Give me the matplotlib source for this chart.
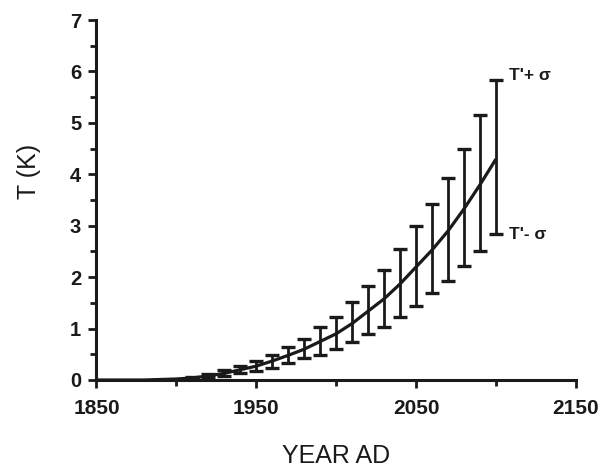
import numpy as np
import matplotlib
matplotlib.use("Agg")
import matplotlib.pyplot as plt
from matplotlib.ticker import MultipleLocator

# mean warming curve (K) by year
anos_curva = [1850, 1860, 1870, 1880, 1890, 1900, 1910, 1920, 1930, 1940, 1950,
              1960, 1970, 1980, 1990, 2000, 2010, 2020, 2030, 2040, 2050,
              2060, 2070, 2080, 2090, 2100]
t_curva = [0.0, 0.0, 0.0, 0.0, 0.01, 0.02, 0.04, 0.08, 0.13, 0.2, 0.27,
           0.37, 0.48, 0.6, 0.75, 0.9, 1.1, 1.34, 1.58, 1.87, 2.2,
           2.53, 2.9, 3.33, 3.8, 4.3]

# T' + sigma / T' - sigma every ten years
anos_barra = [1910, 1920, 1930, 1940, 1950, 1960, 1970, 1980, 1990, 2000,
              2010, 2020, 2030, 2040, 2050, 2060, 2070, 2080, 2090, 2100]
t_sup = [0.06, 0.11, 0.19, 0.27, 0.36, 0.49, 0.64, 0.79, 1.03, 1.22,
         1.51, 1.83, 2.14, 2.55, 2.99, 3.43, 3.93, 4.49, 5.15, 5.83]
t_inf = [0.02, 0.05, 0.08, 0.14, 0.17, 0.24, 0.33, 0.42, 0.49, 0.60,
         0.73, 0.89, 1.04, 1.23, 1.43, 1.69, 1.93, 2.21, 2.50, 2.83]

# eixos
xticks_maior = [1850, 1950, 2050, 2150]
xticks_menor = [1900, 2000, 2100]

plt.rcParams["font.family"] = ["Liberation Sans", "DejaVu Sans"]

fig = plt.figure(figsize=(6.05, 4.67), dpi=100)
ax = fig.add_axes([0.1595, 0.1863, 0.7925, 0.7707])

cor = "#1a1a1a"
ax.plot(anos_curva, t_curva, color=cor, lw=2.3, solid_capstyle="butt", zorder=3)

centro = (np.array(t_sup) + np.array(t_inf)) / 2
ax.errorbar(anos_barra, centro,
            yerr=[centro - np.array(t_inf), np.array(t_sup) - centro],
            fmt="none", ecolor=cor, elinewidth=2.0, capsize=5, capthick=2.4,
            zorder=2)

ax.text(2108, t_sup[-1] + 0.1, "T'+ σ", fontsize=12.5, fontweight="bold",
        va="center", ha="left", color=cor)
ax.text(2108, t_inf[-1], "T'- σ", fontsize=12.5, fontweight="bold",
        va="center", ha="left", color=cor)

ax.set_xlim(1850, 2150)
ax.set_ylim(0, 7)
ax.set_xticks(xticks_maior)
ax.set_xticks(xticks_menor, minor=True)
ax.yaxis.set_major_locator(MultipleLocator(1))
ax.yaxis.set_minor_locator(MultipleLocator(0.5))

for lado in ["top", "right"]:
    ax.spines[lado].set_visible(False)
for lado in ["left", "bottom"]:
    ax.spines[lado].set_linewidth(2.2)
    ax.spines[lado].set_color(cor)

ax.tick_params(which="major", length=6, width=2, color=cor, direction="out")
ax.tick_params(which="minor", length=4, width=2, color=cor, direction="out")
ax.tick_params(axis="x", which="major", pad=8)
ax.tick_params(axis="y", which="major", pad=5)
for lbl in ax.get_xticklabels():
    lbl.set_fontsize(15)
    lbl.set_fontweight("bold")
    lbl.set_color(cor)
for lbl in ax.get_yticklabels():
    lbl.set_fontsize(14.5)
    lbl.set_fontweight("bold")
    lbl.set_color(cor)

ax.set_xlabel("YEAR AD", fontsize=18, color=cor, va="center")
ax.xaxis.set_label_coords(0.5, -0.21)
ax.set_ylabel("T (K)", fontsize=18, color=cor)
ax.yaxis.set_label_coords(-0.115, 0.58)

fig.savefig("out.png", dpi=100)
